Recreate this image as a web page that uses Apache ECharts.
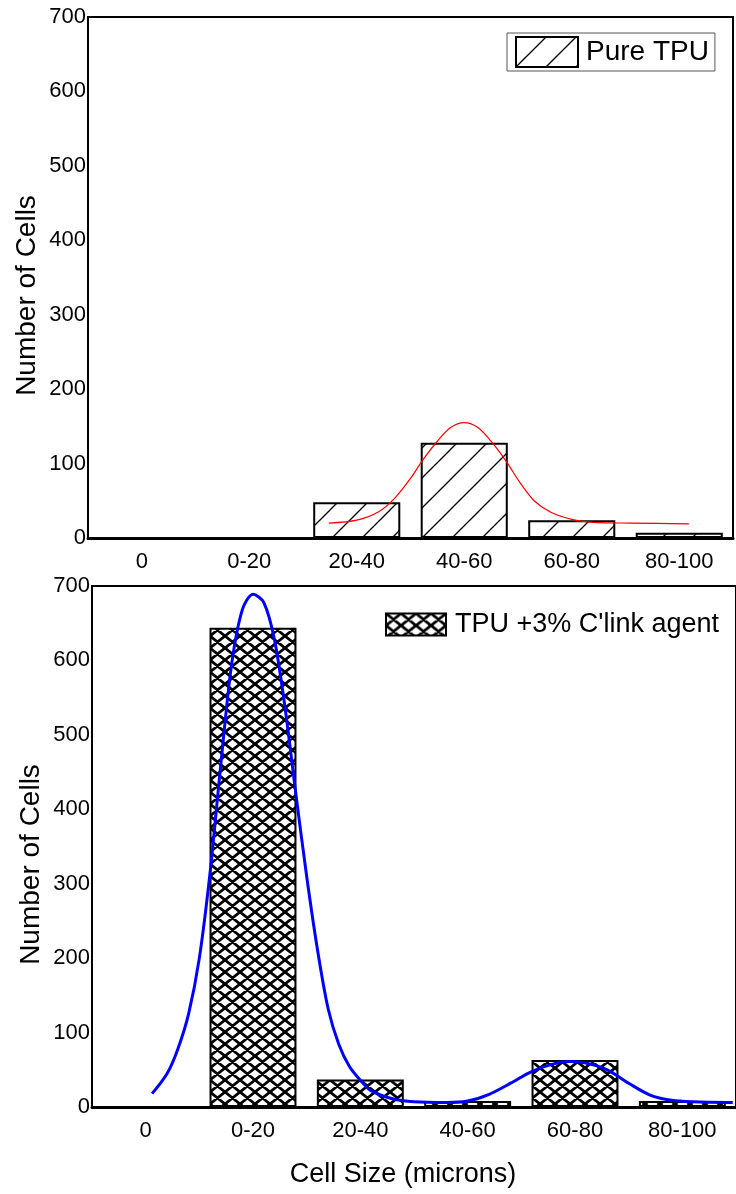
<!DOCTYPE html>
<html>
<head>
<meta charset="utf-8">
<script src="https://cdn.jsdelivr.net/npm/echarts@6/dist/echarts.min.js"></script>
<style>
  html, body { margin: 0; padding: 0; background: #fff; }
  #chart { width: 736px; height: 1194px; }
</style>
</head>
<body>
<div id="chart"></div>
<script>
// categories along the x axis (cell size ranges)
const categories = ['0', '0-20', '20-40', '40-60', '60-80', '80-100'];
// bar heights
const pureTpuCounts = [0, 0, 48, 128, 24, 7];
const clinkCounts = [0, 644, 37, 8, 63, 8];
// fitted curves, x in category units (0 = first category centre)
const pureFitX = [1.74, 2.0, 2.2, 2.35, 2.5, 2.62, 2.75, 2.87, 3.0, 3.13, 3.26, 3.4, 3.52, 3.65, 3.8, 4.0, 4.2, 4.55, 5.09];
const pureFitY = [20, 24, 35, 53, 80, 106, 130, 148, 155, 148, 128, 101, 74, 50, 35, 25, 21, 20, 19];
const clinkFitX = [0.06, 0.2, 0.3, 0.4, 0.5, 0.6, 0.7, 0.8, 0.9, 1.0, 1.1, 1.2, 1.3, 1.4, 1.5, 1.6, 1.7, 1.8, 1.9, 2.0, 2.1, 2.3, 2.5, 2.8, 3.0, 3.2, 3.4, 3.6, 3.8, 3.95, 4.1, 4.3, 4.5, 4.7, 4.9, 5.1, 5.47];
const clinkFitY = [18, 45, 78, 125, 200, 315, 460, 594, 668, 689, 678, 628, 535, 420, 310, 212, 132, 84, 54, 36, 22, 11, 7, 6, 8, 17, 32, 48, 58, 61, 59, 50, 32, 16, 9, 7, 6];

const font = "'Liberation Sans', Arial, sans-serif";

function makeHatch() {
  let c = document.createElement('canvas');
  c.width = 30;
  c.height = 30;
  let ctx = c.getContext('2d');
  ctx.strokeStyle = '#000';
  ctx.lineWidth = 1.3;
  [0, 30, 60].forEach((k) => {
    ctx.beginPath();
    ctx.moveTo(-10, k + 10);
    ctx.lineTo(k + 10, -10);
    ctx.stroke();
  });
  return c;
}

function makeCross() {
  let w = 15, h = 12;
  let c = document.createElement('canvas');
  c.width = w;
  c.height = h;
  let ctx = c.getContext('2d');
  ctx.fillStyle = '#fff';
  ctx.fillRect(0, 0, w, h);
  ctx.strokeStyle = '#000';
  ctx.lineWidth = 2.8;
  ctx.beginPath();
  ctx.moveTo(-w, -h); ctx.lineTo(2 * w, 2 * h);
  ctx.moveTo(-w, 2 * h); ctx.lineTo(2 * w, -h);
  ctx.moveTo(0, -h); ctx.lineTo(2 * w, h);
  ctx.moveTo(-w, 0); ctx.lineTo(w, 2 * h);
  ctx.moveTo(0, 2 * h); ctx.lineTo(2 * w, 0);
  ctx.moveTo(-w, h); ctx.lineTo(w, -h);
  ctx.stroke();
  return c;
}

let chart = echarts.init(document.getElementById('chart'));

let catAxis = (gridIndex) => ({
  type: 'category',
  gridIndex: gridIndex,
  data: categories,
  boundaryGap: true,
  axisLine: { onZero: false, lineStyle: { color: '#000', width: 3 } },
  axisTick: { show: false },
  axisLabel: { color: '#000', fontSize: 22, fontFamily: font, margin: 13, interval: 0 },
  splitLine: { show: false },
});

let fitAxis = (gridIndex) => ({
  type: 'value',
  gridIndex: gridIndex,
  min: -0.5,
  max: 5.5,
  show: false,
});

let countAxis = (gridIndex) => ({
  type: 'value',
  gridIndex: gridIndex,
  min: 0,
  max: 700,
  interval: 100,
  name: 'Number of Cells',
  nameLocation: 'middle',
  nameGap: 47,
  nameMoveOverlap: false,
  nameTextStyle: { color: '#000', fontSize: 28, fontFamily: font, padding: [0, 36, 0, 0] },
  axisLine: { show: true, onZero: false, lineStyle: { color: '#000', width: 2 } },
  axisTick: { show: false },
  axisLabel: { color: '#000', fontSize: 22, fontFamily: font, margin: 2 },
  splitLine: { show: false },
});

let option = {
  backgroundColor: '#fff',
  animation: false,
  grid: [
    { left: 88, right: 3, top: 17, bottom: 656, show: true, borderColor: '#000', borderWidth: 2, backgroundColor: 'transparent' },
    { left: 92, right: -4, top: 586, bottom: 87, show: true, borderColor: '#000', borderWidth: 2, backgroundColor: 'transparent' },
  ],
  legend: [
    {
      data: ['Pure TPU'],
      icon: 'rect',
      left: 507,
      top: 33,
      padding: [3, 6, 3, 8],
      borderColor: '#555',
      borderWidth: 1,
      itemWidth: 62,
      itemHeight: 30,
      textStyle: { color: '#000', fontSize: 28, fontFamily: font, padding: [0, 0, 0, 3] },
    },
    {
      data: ["TPU +3% C'link agent"],
      icon: 'rect',
      left: 385,
      top: 611,
      padding: 0,
      itemWidth: 60,
      itemHeight: 22,
      textStyle: { color: '#000', fontSize: 27, fontFamily: font, padding: [0, 0, 0, 4] },
    },
  ],
  xAxis: [
    catAxis(0),
    fitAxis(0),
    Object.assign(catAxis(1), {
      name: 'Cell Size (microns)',
      nameLocation: 'middle',
      nameGap: 54,
      nameTextStyle: { color: '#000', fontSize: 27, fontFamily: font, padding: [0, 22, 0, 0] },
    }),
    fitAxis(1),
  ],
  yAxis: [countAxis(0), countAxis(1)],
  series: [
    {
      name: 'Pure TPU',
      type: 'bar',
      xAxisIndex: 0,
      yAxisIndex: 0,
      barWidth: '81%',
      data: pureTpuCounts,
      itemStyle: { color: { image: makeHatch(), repeat: 'repeat' }, borderColor: '#000', borderWidth: 2 },
    },
    {
      name: 'pure fit',
      type: 'line',
      xAxisIndex: 1,
      yAxisIndex: 0,
      smooth: 0.3,
      showSymbol: false,
      data: pureFitX.map((x, i) => [x, pureFitY[i]]),
      lineStyle: { color: '#ff0000', width: 1.2 },
      itemStyle: { color: '#ff0000' },
    },
    {
      name: "TPU +3% C'link agent",
      type: 'bar',
      xAxisIndex: 2,
      yAxisIndex: 1,
      barWidth: '81%',
      data: clinkCounts,
      itemStyle: { color: { image: makeCross(), repeat: 'repeat' }, borderColor: '#000', borderWidth: 2 },
    },
    {
      name: 'clink fit',
      type: 'line',
      xAxisIndex: 3,
      yAxisIndex: 1,
      smooth: 0.3,
      showSymbol: false,
      data: clinkFitX.map((x, i) => [x, clinkFitY[i]]),
      lineStyle: { color: '#0000ff', width: 3 },
      itemStyle: { color: '#0000ff' },
    },
  ],
};

chart.setOption(option);
</script>
</body>
</html>
